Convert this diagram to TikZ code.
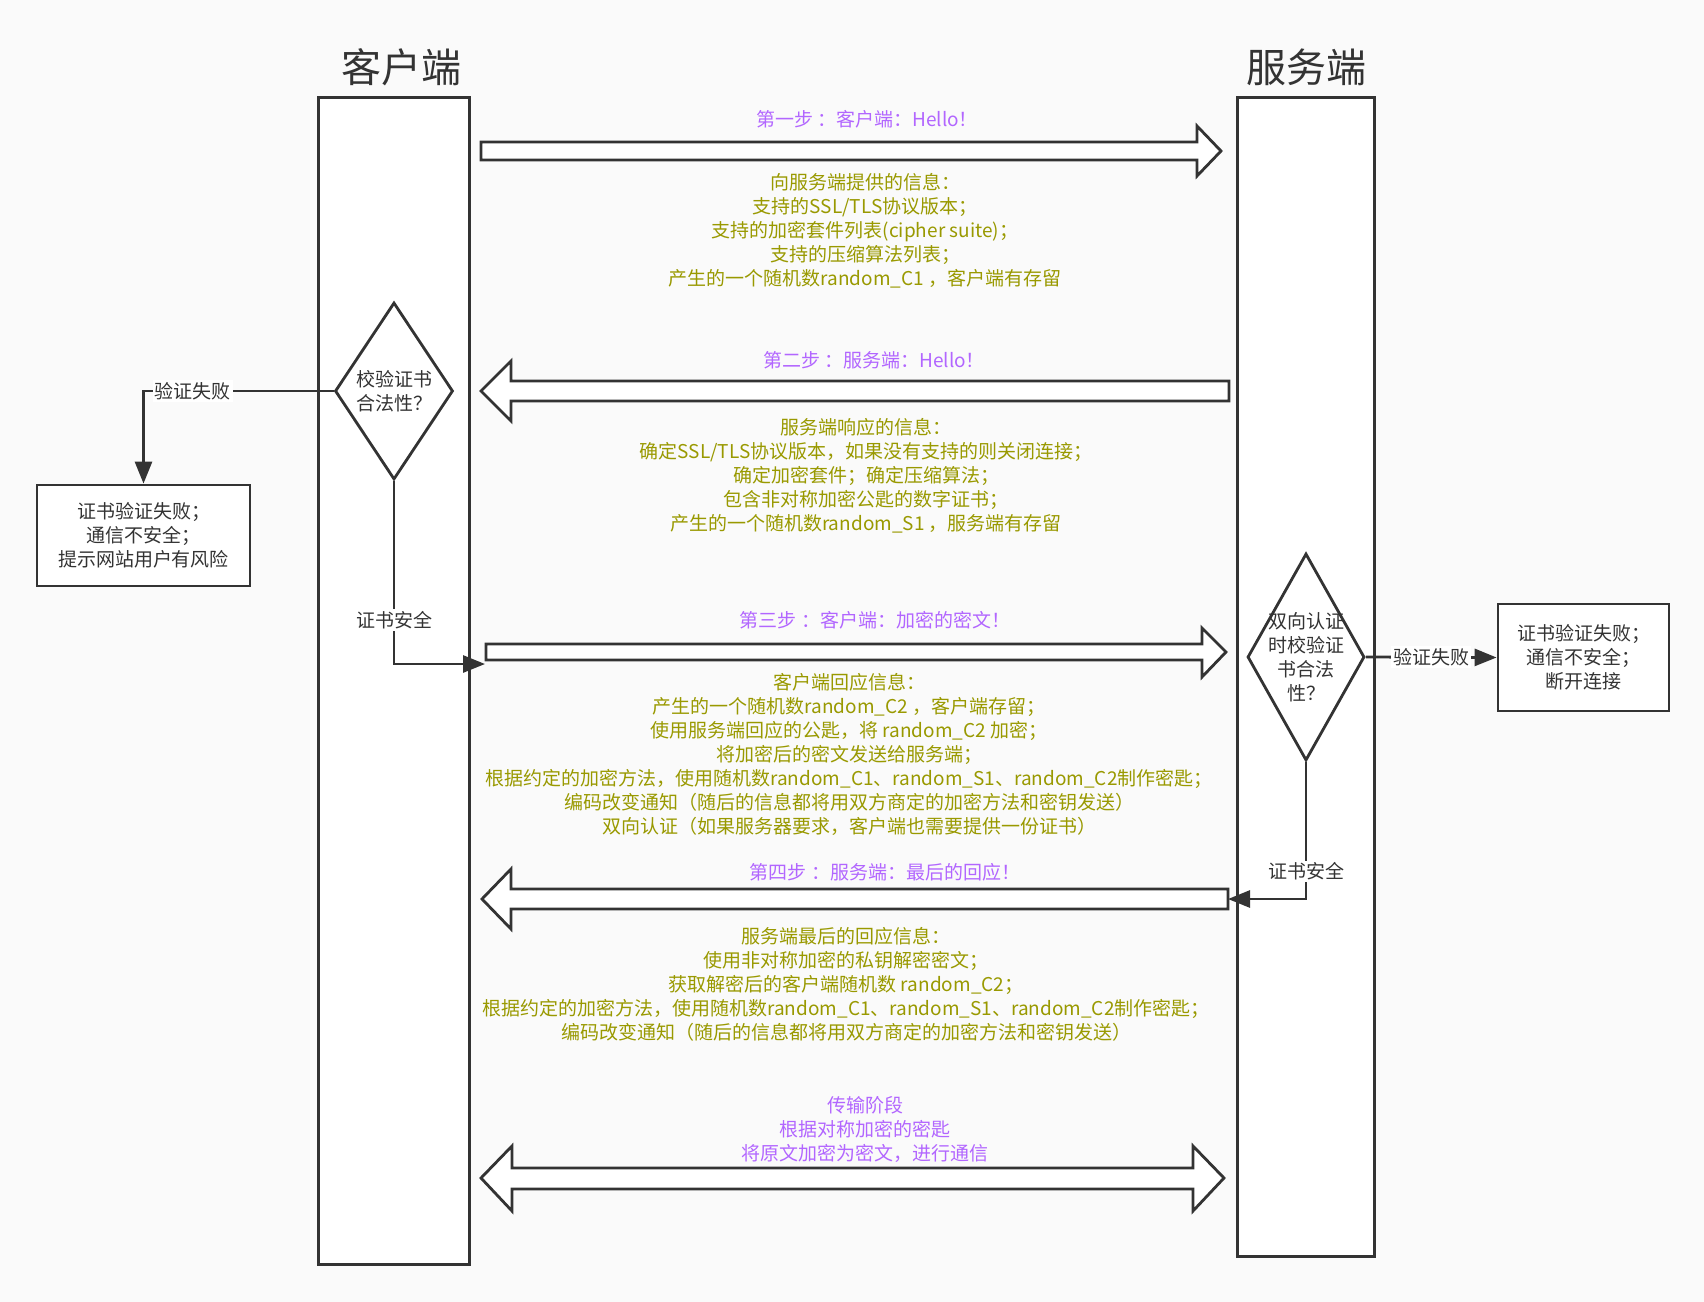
\documentclass[tikz,border=0pt]{standalone}
\usepackage{fontspec}
\setmainfont{Noto Sans CJK SC}
\usetikzlibrary{positioning,arrows.meta,shapes.geometric}
\definecolor{bggray}{RGB}{250,250,250}
\definecolor{ink}{RGB}{51,51,51}
\definecolor{steppurple}{RGB}{178,102,255}
\definecolor{infoolive}{RGB}{153,153,0}
\tikzset{
  base/.style={font=\fontsize{9.5pt}{12pt}\selectfont, text=ink},
  lane/.style={draw=ink, fill=white, line width=1.5pt, inner sep=0pt},
  lanetitle/.style={font=\fontsize{20pt}{24pt}\selectfont, text=ink},
  decision/.style={diamond, draw=ink, fill=white, line width=1.4pt, inner sep=0pt},
  dtext/.style={base, align=center, inner sep=0pt},
  failbox/.style={base, draw=ink, fill=white, line width=1.4pt, align=center, inner sep=0pt},
  conn/.style={draw=ink, line width=1.4pt, -{Triangle[length=11pt,width=8.5pt]}},
  edgelab/.style={base, fill=white, inner sep=1pt},
  steplab/.style={base, text=steppurple, align=center},
  infotext/.style={base, text=infoolive, align=center},
  blockarrow/.style={draw=ink, fill=white, line width=1.4pt, line join=miter},
}

\begin{document}
\begin{tikzpicture}[x=0.5pt, y=-0.5pt]
  % --- canvas ---
  \useasboundingbox (0,0) rectangle (1704,1302);
  \fill[bggray] (0,0) rectangle (1704,1302);

  % --- the two lanes ---
  \node[lane, minimum width=75.5pt, minimum height=583.5pt] (client) at (393.5,680.5) {};
  \node[lane, minimum width=68.5pt, minimum height=579.5pt] (server) at (1305.5,676.5) {};
  \node[lanetitle] (clienttitle) at (401,67) {客户端};
  \node[lanetitle] (servertitle) at (1306,67) {服务端};

  % ===== step 1: client -> server =====
  \draw[blockarrow] (481,142) -- (1197,142) -- (1197,126) -- (1221,151)
    -- (1197,176) -- (1197,160) -- (481,160) -- cycle;
  \node[steplab] (step1) at (867,119) {第一步 ：客户端：Hello！};
  \node[infotext] (info1) at (865,230.5)
    {向服务端提供的信息：\\支持的SSL/TLS协议版本；\\支持的加密套件列表(cipher suite)；\\支持的压缩算法列表；\\产生的一个随机数random\_C1 ，客户端有存留};

  % ===== step 2: server -> client =====
  \draw[blockarrow] (481,391) -- (511,361) -- (511,381) -- (1229,381)
    -- (1229,401) -- (511,401) -- (511,421) -- cycle;
  \node[steplab] (step2) at (874,360) {第二步 ：服务端：Hello！};
  \node[infotext] (info2) at (866,475.5)
    {服务端响应的信息：\\确定SSL/TLS协议版本，如果没有支持的则关闭连接；\\确定加密套件；确定压缩算法；\\包含非对称加密公匙的数字证书；\\产生的一个随机数random\_S1 ，服务端有存留};

  % --- client checks the certificate ---
  \node[decision, minimum width=59pt, minimum height=88.5pt,
        label={[dtext]center:{校验证书\\合法性？}}] (chk) at (394,391) {};
  \node[failbox, minimum width=106.5pt, minimum height=50.5pt] (fail) at (143.5,535.5)
    {证书验证失败；\\通信不安全；\\提示网站用户有风险};
  \draw[conn] (chk.west) -| (fail.north) node[edgelab, pos=0.37] (failtxt) {验证失败};
  \coordinate (c3in) at (485,664);
  \draw[conn] (chk.south) |- (c3in) node[edgelab, pos=0.38] (oktxt) {证书安全};

  % ===== step 3: client -> server =====
  \draw[blockarrow] (486,644) -- (1202,644) -- (1202,628) -- (1226,652)
    -- (1202,677) -- (1202,660) -- (486,660) -- cycle;
  \node[steplab] (step3) at (875,620) {第三步 ：客户端：加密的密文！};
  \node[infotext] (info3) at (849,754)
    {客户端回应信息：\\产生的一个随机数random\_C2 ，客户端存留；\\使用服务端回应的公匙，将 random\_C2 加密；\\将加密后的密文发送给服务端；\\根据约定的加密方法，使用随机数random\_C1、random\_S1、random\_C2制作密匙；\\编码改变通知（随后的信息都将用双方商定的加密方法和密钥发送）\\双向认证（如果服务器要求，客户端也需要提供一份证书）};

  % --- server checks the client certificate ---
  \node[decision, minimum width=58.5pt, minimum height=103.5pt,
        label={[dtext]center:{双向认证\\时校验证\\书合法\\性？}}] (chk2) at (1306,657) {};
  \node[failbox, minimum width=85.5pt, minimum height=53.5pt] (fail2) at (1583.5,657.5)
    {证书验证失败；\\通信不安全；\\断开连接};
  \draw[conn] (chk2.east) -- (fail2.west) node[edgelab, midway] (fail2txt) {验证失败};
  \coordinate (c4in) at (1228,899);
  \draw[conn] (chk2.south) |- (c4in) node[edgelab, pos=0.4] (ok2txt) {证书安全};

  % ===== step 4: server -> client =====
  \draw[blockarrow] (482,899) -- (511,869) -- (511,889) -- (1228,889)
    -- (1228,909) -- (511,909) -- (511,929) -- cycle;
  \node[steplab] (step4) at (885,872) {第四步 ：服务端：最后的回应！};
  \node[infotext] (info4) at (846,984)
    {服务端最后的回应信息：\\使用非对称加密的私钥解密密文；\\获取解密后的客户端随机数 random\_C2；\\根据约定的加密方法，使用随机数random\_C1、random\_S1、random\_C2制作密匙；\\编码改变通知（随后的信息都将用双方商定的加密方法和密钥发送）};

  % ===== transfer phase: both ways =====
  \draw[blockarrow] (481,1178) -- (512,1146) -- (512,1168) -- (1193,1168) -- (1193,1146)
    -- (1224,1178) -- (1193,1211) -- (1193,1189) -- (512,1189) -- (512,1211) -- cycle;
  \node[steplab] (transfer) at (865,1129.5) {传输阶段\\根据对称加密的密匙\\将原文加密为密文，进行通信};
\end{tikzpicture}
\end{document}
